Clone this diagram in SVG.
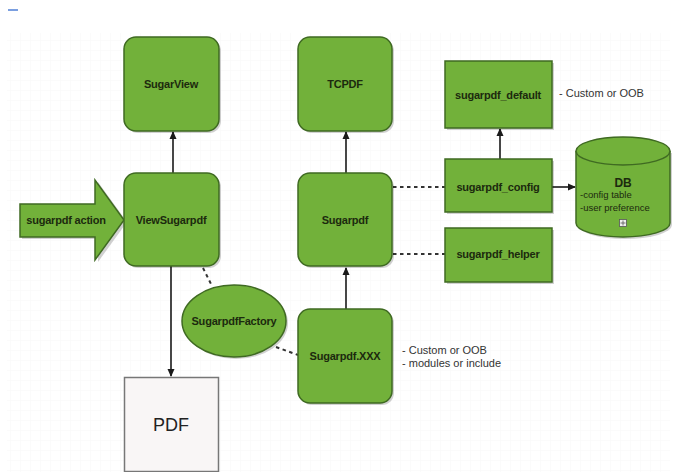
<svg xmlns="http://www.w3.org/2000/svg" width="673" height="472" viewBox="0 0 673 472">
<style>
.n{fill:#72b13a;stroke:#3f6a22;stroke-width:1.5}
.t{font-family:"Liberation Sans",Arial,sans-serif;font-size:11px;fill:#1c2a0e;text-anchor:middle;font-weight:bold;letter-spacing:-0.2px}
.note{font-family:"Liberation Sans",Arial,sans-serif;font-size:11px;fill:#333}
.c{stroke:#1a1a1a;stroke-width:1.6;fill:none}
.d{stroke:#333;stroke-width:2;fill:none;stroke-dasharray:3.5,3.5}
.sh{fill:#000;opacity:0.18}
</style>
<defs>
<marker id="ah" markerWidth="8" markerHeight="8" refX="7" refY="4" orient="auto" markerUnits="userSpaceOnUse">
<path d="M0,0.5 L8,4 L0,7.5 Z" fill="#1a1a1a"/>
</marker>
<pattern id="grid" width="10" height="10" patternUnits="userSpaceOnUse">
<path d="M10,0 L0,0 0,10" fill="none" stroke="#f8f8f8" stroke-width="1"/>
</pattern>
</defs>
<rect width="673" height="472" fill="#fff"/>
<rect x="7" y="33" width="663" height="439" fill="url(#grid)"/>
<rect x="8" y="9" width="10" height="2" fill="#7b9fe0"/>

<g id="connectors">
<line class="c" x1="173" y1="173" x2="173" y2="132" marker-end="url(#ah)"/>
<line class="c" x1="171" y1="266" x2="171" y2="376" marker-end="url(#ah)"/>
<line class="c" x1="346" y1="173" x2="346" y2="132" marker-end="url(#ah)"/>
<line class="c" x1="346" y1="309" x2="346" y2="268" marker-end="url(#ah)"/>
<line class="c" x1="500" y1="159" x2="500" y2="129" marker-end="url(#ah)"/>
<line class="c" x1="552" y1="187" x2="575" y2="187" marker-end="url(#ah)"/>
<line class="d" x1="393" y1="187" x2="445" y2="187"/>
<line class="d" x1="393" y1="254" x2="445" y2="254"/>
<line class="d" x1="203" y1="268" x2="211" y2="284"/>
<line class="d" x1="276" y1="347" x2="298" y2="355"/>
</g>

<g id="sugarpdf-action">
<path class="sh" d="M22,206 L98,206 L98,182 L127,222 L98,262 L98,239 L22,239 Z"/>
<path class="n" d="M20,204 L95,204 L95,180 L124,220 L95,260 L95,237 L20,237 Z"/>
<text class="t" x="66" y="224">sugarpdf action</text>
</g>

<g id="sugarview">
<rect class="sh" x="126" y="39" width="95" height="94" rx="12"/>
<rect class="n" x="124" y="37" width="95" height="94" rx="12"/>
<text class="t" x="171" y="88">SugarView</text>
</g>

<g id="viewsugarpdf">
<rect class="sh" x="126" y="175" width="95" height="93" rx="12"/>
<rect class="n" x="124" y="173" width="95" height="93" rx="12"/>
<text class="t" x="171" y="224">ViewSugarpdf</text>
</g>

<g id="tcpdf">
<rect class="sh" x="300" y="39" width="94" height="94" rx="12"/>
<rect class="n" x="298" y="37" width="94" height="94" rx="12"/>
<text class="t" x="345" y="88">TCPDF</text>
</g>

<g id="sugarpdf">
<rect class="sh" x="300" y="175" width="94" height="93" rx="12"/>
<rect class="n" x="298" y="173" width="94" height="93" rx="12"/>
<text class="t" x="345" y="224">Sugarpdf</text>
</g>

<g id="sugarpdf-xxx">
<rect class="sh" x="300" y="311" width="94" height="94" rx="12"/>
<rect class="n" x="298" y="309" width="94" height="94" rx="12"/>
<text class="t" x="345" y="360">Sugarpdf.XXX</text>
</g>
<text class="note" x="402" y="354">- Custom or OOB</text>
<text class="note" x="402" y="367">- modules or include</text>

<g id="sugarpdf-default">
<rect class="sh" x="447" y="63" width="107" height="67"/>
<rect class="n" x="445" y="61" width="107" height="67"/>
<text class="t" x="498" y="99">sugarpdf_default</text>
</g>
<text class="note" x="559" y="97">- Custom or OOB</text>

<g id="sugarpdf-config">
<rect class="sh" x="447" y="161" width="107" height="53"/>
<rect class="n" x="445" y="159" width="107" height="53"/>
<text class="t" x="498" y="191">sugarpdf_config</text>
</g>

<g id="sugarpdf-helper">
<rect class="sh" x="447" y="230" width="107" height="54"/>
<rect class="n" x="445" y="228" width="107" height="54"/>
<text class="t" x="498" y="258">sugarpdf_helper</text>
</g>

<g id="db">
<path class="sh" d="M578,153 L578,225 A47,14 0 0 0 672,225 L672,153 Z"/>
<path class="n" d="M576,151 L576,223 A47,14 0 0 0 670,223 L670,151"/>
<ellipse class="n" cx="623" cy="151" rx="47" ry="14"/>
<text class="t" x="623" y="187" style="font-size:12px">DB</text>
<text class="note" x="580" y="198" style="font-size:9.5px;fill:#1c2a0e">-config table</text>
<text class="note" x="580" y="211" style="font-size:9.5px;fill:#1c2a0e">-user preference</text>
<rect x="619.5" y="219.5" width="7" height="7" fill="#eee" stroke="#555" stroke-width="0.8"/>
<path d="M623,220.5 V225.5 M620.5,223 H625.5" stroke="#555" stroke-width="0.8"/>
</g>

<g id="sugarpdffactory">
<ellipse class="sh" cx="236" cy="323" rx="52" ry="36"/>
<ellipse class="n" cx="234" cy="321" rx="52" ry="36"/>
<text class="t" x="234" y="325">SugarpdfFactory</text>
</g>

<g id="pdf">
<rect x="124.5" y="377.5" width="94" height="94" fill="#f9f6f6" stroke="#777" stroke-width="1.5"/>
<text x="171" y="431" style="font-family:'Liberation Sans',Arial,sans-serif;font-size:18px;fill:#222;text-anchor:middle">PDF</text>
</g>
</svg>
